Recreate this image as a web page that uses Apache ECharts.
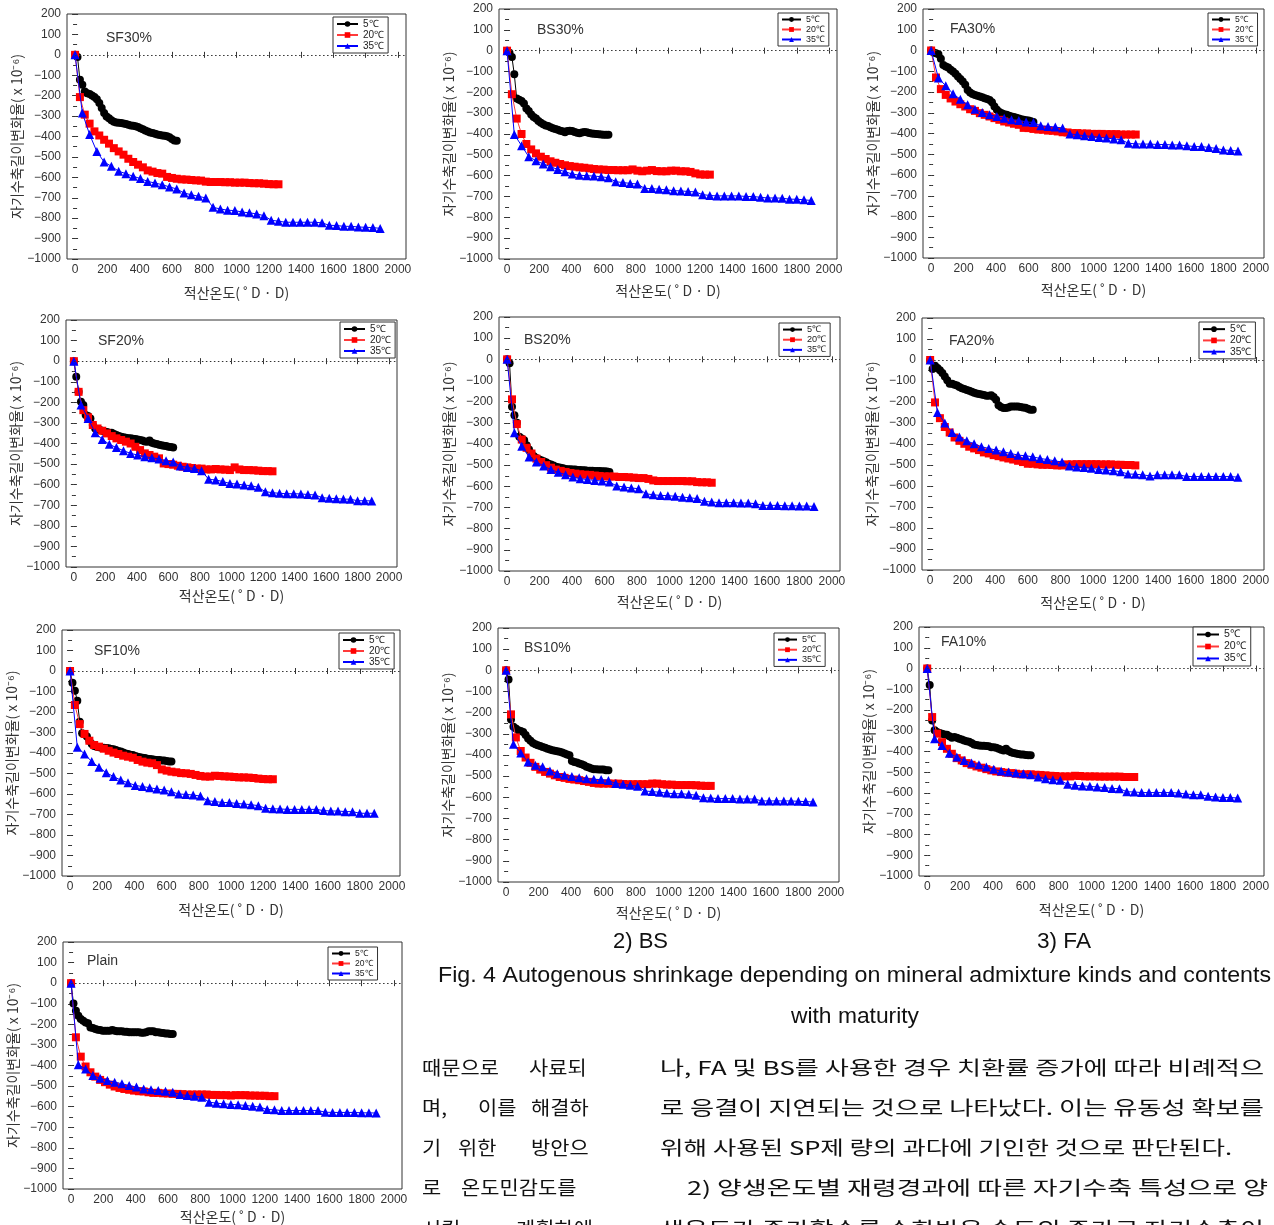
<!DOCTYPE html>
<html><head><meta charset="utf-8">
<script src="https://cdn.jsdelivr.net/npm/echarts@6/dist/echarts.min.js"></script>
<style>html,body{margin:0;padding:0;background:#fff}#c{width:1274px;height:1225px}</style>
</head><body><div id="c"></div>
<script>
// ---------- data ----------
const maturity5 = [0,15,30,45,60,75,90,105,120,135,150,165,180,195,210,225,240,255,270,285,300,315,330,345,360,375,390,405,420,435,450,465,480,495,510,525,540,555,570,585,600,615,630];
const maturity20 = [0,30,60,90,120,150,180,210,240,270,300,330,360,390,420,450,480,510,540,570,600,630,660,690,720,750,780,810,840,870,900,930,960,990,1020,1050,1080,1110,1140,1170,1200,1230,1260];
const maturity35 = [0,45,90,135,180,225,270,315,360,405,450,495,540,585,630,675,720,765,810,855,900,945,990,1035,1080,1125,1170,1215,1260,1305,1350,1395,1440,1485,1530,1575,1620,1665,1710,1755,1800,1845,1890];
const seriesNames = ['5℃','20℃','35℃'];
const xTicks = [0,200,400,600,800,1000,1200,1400,1600,1800,2000];

const sf30_5 = [0,-10,-122,-147,-180,-188,-192,-199,-207,-217,-236,-261,-285,-302,-310,-321,-328,-331,-333,-334,-336,-339,-342,-346,-347,-350,-354,-359,-364,-370,-375,-380,-383,-386,-390,-393,-395,-396,-399,-404,-412,-419,-421];
const sf30_20 = [0,-207,-293,-337,-375,-395,-416,-435,-457,-473,-489,-509,-525,-538,-551,-566,-572,-579,-582,-598,-603,-607,-610,-611,-613,-615,-616,-621,-623,-623,-623,-624,-624,-626,-626,-626,-628,-629,-629,-631,-633,-634,-634];
const sf30_35 = [0,-285,-390,-474,-525,-546,-570,-582,-595,-606,-620,-628,-636,-647,-657,-677,-685,-693,-701,-747,-755,-761,-763,-770,-774,-779,-788,-810,-815,-820,-820,-820,-820,-820,-823,-835,-836,-840,-840,-843,-845,-846,-850];

const bs30_5 = [0,-10,-30,-113,-230,-235,-241,-254,-278,-290,-306,-318,-326,-337,-346,-353,-359,-362,-368,-372,-376,-380,-384,-387,-391,-386,-384,-386,-390,-394,-396,-393,-390,-392,-395,-397,-399,-400,-401,-402,-403,-403,-404];
const bs30_20 = [0,-209,-326,-400,-448,-474,-493,-509,-520,-531,-538,-544,-550,-554,-557,-560,-562,-565,-568,-570,-571,-573,-573,-574,-574,-574,-570,-576,-579,-576,-573,-578,-579,-579,-576,-576,-579,-579,-582,-589,-594,-595,-595];
const bs30_35 = [0,-402,-456,-509,-528,-544,-557,-570,-581,-592,-598,-600,-602,-605,-610,-629,-633,-637,-640,-661,-662,-665,-668,-672,-673,-676,-678,-691,-695,-697,-697,-697,-697,-700,-700,-704,-707,-707,-708,-713,-713,-716,-719];

const fa30_5 = [0,-10,-13,-18,-40,-70,-77,-82,-93,-101,-112,-125,-137,-149,-165,-190,-202,-210,-214,-218,-222,-225,-230,-234,-238,-249,-270,-286,-296,-302,-307,-310,-315,-318,-321,-324,-328,-331,-334,-336,-337,-341,-344];
const fa30_20 = [0,-130,-186,-214,-231,-246,-259,-270,-283,-291,-302,-310,-318,-326,-334,-342,-347,-353,-358,-373,-374,-378,-381,-382,-386,-387,-390,-394,-395,-398,-398,-400,-400,-402,-402,-402,-403,-403,-403,-405,-405,-405,-405];
const fa30_35 = [0,-133,-170,-209,-235,-262,-283,-299,-310,-318,-326,-334,-337,-344,-347,-363,-366,-369,-374,-402,-406,-411,-414,-419,-422,-426,-430,-447,-450,-451,-451,-453,-453,-455,-455,-459,-463,-463,-467,-472,-479,-482,-484];

const sf20_5 = [0,-76,-149,-197,-213,-262,-267,-278,-310,-327,-331,-335,-338,-343,-344,-348,-348,-354,-359,-364,-367,-370,-372,-374,-375,-377,-378,-380,-383,-386,-390,-391,-386,-396,-400,-403,-406,-409,-411,-412,-416,-417,-419];
const sf20_20 = [0,-149,-238,-273,-310,-327,-338,-351,-364,-375,-383,-391,-400,-416,-432,-448,-456,-464,-472,-497,-500,-503,-508,-513,-516,-519,-522,-522,-526,-526,-524,-526,-527,-529,-516,-526,-529,-529,-530,-532,-534,-534,-535];
const sf20_35 = [0,-213,-278,-348,-380,-404,-420,-435,-448,-456,-464,-469,-475,-484,-490,-509,-516,-522,-532,-574,-577,-585,-594,-597,-602,-605,-613,-634,-639,-642,-644,-644,-645,-648,-650,-663,-666,-668,-670,-671,-678,-678,-679];

const bs20_5 = [0,-19,-224,-264,-300,-366,-374,-382,-406,-426,-445,-458,-466,-472,-477,-482,-486,-493,-497,-502,-507,-510,-512,-515,-518,-519,-519,-521,-521,-523,-523,-524,-524,-526,-526,-526,-527,-527,-527,-529,-529,-530,-532];
const bs20_20 = [0,-189,-306,-379,-418,-445,-469,-485,-500,-512,-521,-527,-532,-537,-540,-543,-545,-546,-549,-551,-553,-553,-554,-556,-556,-557,-559,-561,-561,-565,-572,-575,-575,-575,-575,-575,-575,-576,-576,-580,-581,-581,-583];
const bs20_35 = [0,-347,-411,-461,-485,-504,-521,-534,-545,-556,-564,-568,-572,-575,-580,-598,-603,-608,-611,-635,-640,-643,-644,-647,-651,-654,-658,-671,-674,-677,-677,-677,-679,-679,-682,-690,-690,-690,-692,-692,-693,-693,-695];

const fa20_5 = [0,-43,-27,-38,-49,-62,-78,-97,-113,-113,-118,-122,-129,-134,-138,-143,-146,-151,-156,-159,-162,-164,-167,-170,-170,-168,-176,-189,-215,-224,-229,-229,-226,-222,-221,-222,-222,-224,-226,-227,-232,-237,-237];
const fa20_20 = [0,-202,-277,-319,-345,-369,-385,-399,-413,-421,-429,-440,-445,-453,-458,-464,-469,-474,-480,-486,-494,-494,-497,-499,-499,-500,-502,-502,-497,-497,-496,-496,-496,-496,-496,-497,-497,-497,-499,-499,-500,-500,-502];
const fa20_35 = [0,-250,-300,-345,-367,-385,-399,-413,-421,-429,-437,-445,-453,-456,-461,-469,-474,-480,-486,-505,-509,-512,-516,-521,-524,-527,-532,-543,-544,-547,-552,-547,-547,-547,-547,-555,-555,-555,-555,-555,-555,-555,-558];

const sf10_5 = [0,-57,-96,-145,-247,-304,-309,-320,-340,-356,-366,-369,-372,-374,-374,-376,-377,-380,-382,-385,-390,-393,-398,-402,-405,-408,-410,-415,-418,-421,-423,-424,-428,-429,-431,-433,-434,-434,-436,-437,-439,-441,-442];
const sf10_20 = [0,-166,-259,-307,-340,-361,-369,-379,-389,-398,-405,-413,-418,-423,-434,-442,-447,-450,-459,-480,-486,-491,-494,-498,-499,-502,-507,-512,-515,-515,-511,-512,-514,-515,-517,-519,-519,-520,-522,-525,-527,-528,-528];
const sf10_35 = [0,-372,-405,-442,-470,-496,-515,-532,-545,-558,-564,-569,-576,-580,-589,-600,-602,-605,-610,-633,-637,-641,-642,-646,-649,-652,-657,-670,-672,-673,-675,-675,-675,-675,-675,-681,-683,-683,-686,-686,-694,-694,-694];

const bs10_5 = [0,-43,-232,-267,-275,-283,-287,-291,-306,-322,-333,-343,-349,-354,-358,-362,-366,-370,-374,-377,-380,-382,-385,-388,-393,-398,-401,-428,-433,-436,-440,-444,-448,-456,-459,-464,-467,-467,-469,-469,-469,-472,-472];
const bs10_20 = [0,-208,-317,-381,-412,-437,-456,-469,-480,-488,-496,-504,-508,-513,-516,-519,-523,-527,-532,-535,-535,-535,-535,-535,-537,-538,-538,-538,-538,-538,-535,-535,-538,-540,-540,-542,-542,-542,-542,-543,-545,-546,-546];
const bs10_35 = [0,-349,-390,-433,-448,-456,-475,-488,-496,-501,-507,-512,-515,-516,-520,-535,-538,-543,-548,-570,-573,-576,-580,-583,-583,-586,-590,-602,-603,-606,-606,-606,-608,-608,-608,-617,-617,-617,-617,-617,-619,-620,-622];

const fa10_5 = [0,-79,-250,-298,-306,-311,-314,-318,-319,-327,-334,-330,-334,-338,-342,-347,-350,-353,-359,-366,-369,-371,-372,-372,-374,-375,-379,-379,-382,-387,-391,-395,-387,-398,-404,-407,-410,-412,-414,-415,-417,-418,-418];
const fa10_20 = [0,-234,-314,-355,-387,-411,-432,-443,-456,-464,-472,-478,-485,-491,-496,-499,-502,-504,-507,-510,-510,-510,-512,-513,-515,-517,-518,-520,-520,-520,-517,-518,-520,-520,-520,-521,-521,-521,-521,-521,-523,-523,-523];
const fa10_35 = [0,-339,-371,-408,-427,-443,-456,-464,-475,-486,-494,-499,-504,-507,-512,-523,-531,-536,-539,-558,-563,-566,-568,-571,-574,-578,-579,-594,-595,-598,-598,-598,-598,-598,-600,-605,-608,-608,-616,-619,-622,-622,-624];

const plain_5 = [0,-99,-134,-158,-174,-182,-191,-195,-215,-218,-223,-226,-228,-231,-231,-231,-231,-228,-231,-234,-234,-234,-236,-236,-239,-239,-239,-239,-239,-241,-241,-239,-234,-234,-234,-239,-239,-241,-242,-244,-245,-247,-247];
const plain_20 = [0,-263,-357,-405,-433,-454,-470,-481,-493,-502,-509,-514,-518,-522,-525,-526,-530,-533,-533,-535,-536,-538,-538,-539,-541,-541,-541,-541,-541,-543,-543,-544,-544,-546,-544,-544,-544,-546,-546,-547,-547,-549,-549];
const plain_35 = [0,-396,-417,-449,-462,-473,-481,-489,-497,-505,-514,-518,-522,-525,-530,-541,-546,-549,-554,-578,-583,-586,-589,-591,-594,-598,-602,-614,-615,-619,-619,-619,-619,-619,-619,-627,-628,-628,-628,-628,-630,-630,-631];

// ---------- texts ----------
const xName = '적산온도( ˚ D · D)';
const yName = '자기수축길이변화율( x 10⁻⁶)';
const captionLines = [
  ['2) BS', 613, 668, 942],
  ['3) FA', 1037, 1091, 942],
  ['Fig. 4 Autogenous shrinkage depending on mineral admixture kinds and contents', 438, 1271, 976],
  ['with maturity', 791, 919, 1017]
];
const leftColumnWords = [
  ['때문으로', 422, 1068], ['사료되', 529, 1068],
  ['며,', 422, 1108], ['이를', 478, 1108], ['해결하', 531, 1108],
  ['기', 422, 1148], ['위한', 458, 1148], ['방안으', 531, 1148],
  ['로', 422, 1188], ['온도민감도를', 461, 1188],
  ['시킬', 422, 1229], ['계획하에', 516, 1229]
];
const rightColumnLines = [
  ['나, FA 및 BS를 사용한 경우 치환률 증가에 따라 비례적으', 660, 1264, 1068],
  ['로 응결이 지연되는 것으로 나타났다. 이는 유동성 확보를', 660, 1264, 1108],
  ['위해 사용된 SP제 량의 과다에 기인한 것으로 판단된다.', 660, 1232, 1148],
  ['2) 양생온도별 재령경과에 따른 자기수축 특성으로 양', 687, 1268, 1188],
  ['생온도가 증가할수록 수화반응 속도의 증가로 자기수축이', 660, 1264, 1229]
];

// ---------- layout ----------
const X_MIN = -50, X_MAX = 2050;
const FONT_NUM = '"Liberation Sans", Arial, sans-serif';
const FONT_KR = '"Noto Sans CJK KR", sans-serif';
const panels = [
  {label:'SF30%', d:[sf30_5,sf30_20,sf30_35], rect:[67,14,406,259],  title:[106,39],  leg:[333,17,35],  yd:47, xd:34},
  {label:'BS30%', d:[bs30_5,bs30_20,bs30_35], rect:[499,9,837,259],  title:[537,31],  leg:[778,13,31],  yd:47, xd:32},
  {label:'FA30%', d:[fa30_5,fa30_20,fa30_35], rect:[923,9,1264,258], title:[950,30],  leg:[1208,13,30], yd:43, xd:32},
  {label:'SF20%', d:[sf20_5,sf20_20,sf20_35], rect:[66,320,397,567], title:[98,342],  leg:[340,322,35], yd:51, xd:29},
  {label:'BS20%', d:[bs20_5,bs20_20,bs20_35], rect:[499,317,840,571],title:[524,341], leg:[779,323,32], yd:48, xd:31},
  {label:'FA20%', d:[fa20_5,fa20_20,fa20_35], rect:[922,318,1264,570],title:[949,342],leg:[1199,322,36],yd:49, xd:33},
  {label:'SF10%', d:[sf10_5,sf10_20,sf10_35], rect:[62,630,400,876], title:[94,652],  leg:[339,633,35], yd:48, xd:34},
  {label:'BS10%', d:[bs10_5,bs10_20,bs10_35], rect:[498,628,839,882],title:[524,649], leg:[774,633,32], yd:50, xd:31},
  {label:'FA10%', d:[fa10_5,fa10_20,fa10_35], rect:[919,627,1264,876],title:[941,643],leg:[1193,627,37],yd:46, xd:34},
  {label:'Plain', d:[plain_5,plain_20,plain_35], rect:[63,942,402,1189],title:[87,962],leg:[328,947,30], yd:48, xd:28}
];
const styles = [
  {x:maturity5,  symbol:'circle',   size:8, color:'#000000', line:'#000000'},
  {x:maturity20, symbol:'rect',     size:8, color:'#ff0000', line:'#ff3a3a'},
  {x:maturity35, symbol:'triangle', size:9, color:'#0000ff', line:'#0000ff'}
];
const fmt = v => v < 0 ? '\u2212' + Math.abs(v) : String(v);

const grid = [], xAxis = [], yAxis = [], series = [], legend = [], title = [];
panels.forEach((p, i) => {
  const [l, t, r, b] = p.rect;
  grid.push({left:l, top:t, width:r-l, height:b-t, show:true, borderColor:'#333', borderWidth:1, backgroundColor:'#fff'});
  const tickStyle = {color:'#333', width:1};
  xAxis.push({gridIndex:i, type:'value', min:X_MIN, max:X_MAX, position:'bottom',
    axisLine:{show:false}, splitLine:{show:false},
    axisTick:{show:true, customValues:xTicks, length:3, lineStyle:tickStyle},
    axisLabel:{customValues:xTicks, fontSize:12, color:'#333', margin:5, fontFamily:FONT_NUM, formatter:fmt},
    name:xName, nameLocation:'middle', nameGap:p.xd-7,
    nameTextStyle:{fontSize:14, color:'#333', fontFamily:FONT_KR}});
  xAxis.push({gridIndex:i, type:'value', min:X_MIN, max:X_MAX, position:'top',
    axisLine:{show:false}, splitLine:{show:false},
    axisTick:{show:true, customValues:xTicks, length:3, lineStyle:tickStyle},
    axisLabel:{show:false}});
  yAxis.push({gridIndex:i, type:'value', min:-1000, max:200, interval:100, position:'left',
    axisLine:{show:false}, splitLine:{show:false},
    axisTick:{show:true, length:3, lineStyle:tickStyle},
    minorTick:{show:true, splitNumber:2, length:2, lineStyle:tickStyle},
    axisLabel:{fontSize:12, color:'#333', margin:6, fontFamily:FONT_NUM, formatter:fmt},
    name:yName, nameLocation:'middle', nameRotate:90, nameGap:p.yd-7.5,
    nameTextStyle:{fontSize:14, color:'#333', fontFamily:FONT_KR}});
  yAxis.push({gridIndex:i, type:'value', min:-1000, max:200, interval:100, position:'right',
    axisLine:{show:false}, splitLine:{show:false},
    axisTick:{show:true, length:3, lineStyle:tickStyle},
    minorTick:{show:true, splitNumber:2, length:2, lineStyle:tickStyle},
    axisLabel:{show:false}});
  styles.forEach((st, k) => {
    const ys = p.d[k];
    const n = Math.min(ys.length, st.x.length);
    const data = [];
    for (let j = 0; j < n; j++) data.push([st.x[j], ys[j]]);
    const s = {type:'line', name:seriesNames[k], xAxisIndex:2*i, yAxisIndex:2*i, data,
      symbol:st.symbol, symbolSize:st.size, showSymbol:true, showAllSymbol:true,
      itemStyle:{color:st.color}, lineStyle:{color:st.line, width:1},
      emphasis:{disabled:true}, animation:false, z:2+k};
    if (k === 0) {
      s.markLine = {silent:true, symbol:['none','none'], label:{show:false}, animation:false,
        lineStyle:{type:[1.5,2.5], color:'#333', width:1},
        data:[[{coord:[0,0]},{coord:[X_MAX,0]}]]};
    }
    series.push(s);
  });
  const sc = p.leg[2] / 35;
  legend.push({orient:'vertical', left:p.leg[0], top:p.leg[1], data:seriesNames,
    itemWidth:Math.round(21*sc), itemHeight:Math.round(7*sc), itemGap:1,
    padding:[2,4,2,3], borderColor:'#333', borderWidth:1, backgroundColor:'#fff',
    selectedMode:false,
    textStyle:{fontSize:10*sc, lineHeight:10*sc, color:'#222', fontFamily:FONT_NUM}});
  title.push({text:p.label, left:p.title[0], top:p.title[1]-8, padding:0,
    textStyle:{fontSize:14, fontWeight:'normal', color:'#333', fontFamily:FONT_NUM}});
});

// ---------- free text ----------
const mctx = document.createElement('canvas').getContext('2d');
function fitText(text, x0, x1, cy, font) {
  mctx.font = font;
  const w = mctx.measureText(text).width || 1;
  return {type:'text', x:x0, y:cy, scaleX:(x1-x0)/w, originX:0, originY:0, silent:true,
    style:{text, font, fill:'#111', textAlign:'left', align:'left', textVerticalAlign:'middle', verticalAlign:'middle'}};
}
const graphic = [];
captionLines.forEach(c => graphic.push(fitText(c[0], c[1], c[2], c[3], '22px ' + FONT_NUM)));
rightColumnLines.forEach(c => graphic.push(fitText(c[0], c[1], c[2], c[3], '19px ' + FONT_KR)));
leftColumnWords.forEach(c => graphic.push({type:'text', x:c[1], y:c[2], scaleX:1.1, originX:0, originY:0, silent:true,
  style:{text:c[0], font:'19px ' + FONT_KR, fill:'#111', textAlign:'left', align:'left', textVerticalAlign:'middle', verticalAlign:'middle'}}));

const chart = echarts.init(document.getElementById('c'), null, {renderer:'canvas', width:1274, height:1225});
chart.setOption({backgroundColor:'#fff', animation:false, grid, xAxis, yAxis, series, legend, title, graphic});
</script></body></html>
